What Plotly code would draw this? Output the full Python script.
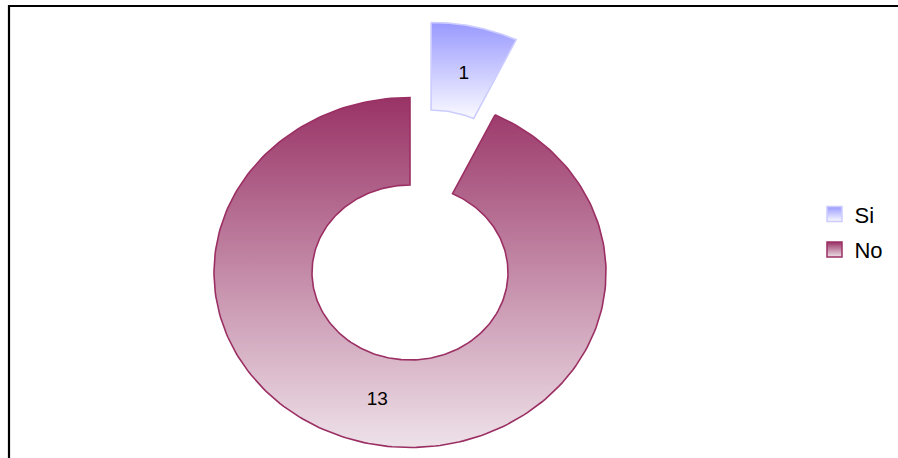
import numpy as np
import plotly.graph_objects as go

# ---- data ----
categories = ["Si", "No"]
values = [1, 13]
labels_text = ["1", "13"]
explode = [0.44, 0.0]
top_colors = ["#9999FF", "#993366"]
bottom_colors = ["#FAFAFF", "#EEE2E9"]
line_colors = ["#CCCCFF", "#9B2F63"]

HOLE = 0.5
W, H = 898, 458
CX, CY = 410, 272.5      # pixel centre of the donut
RX, RY = 196, 175        # pixel radii (stretched ellipse)

fig = go.Figure()

total = sum(values)
start = 0.0
label_x, label_y = [], []
for i, (cat, v) in enumerate(zip(categories, values)):
    a0 = start / total * 2 * np.pi
    a1 = (start + v) / total * 2 * np.pi
    start += v
    mid = (a0 + a1) / 2
    ox, oy = explode[i] * np.sin(mid) * 1.1, explode[i] * np.cos(mid)
    t = np.linspace(a0, a1, 240)
    xs = np.concatenate([np.sin(t), HOLE * np.sin(t[::-1])]) + ox
    ys = np.concatenate([np.cos(t), HOLE * np.cos(t[::-1])]) + oy
    xs = np.append(xs, xs[0])
    ys = np.append(ys, ys[0])
    fig.add_trace(go.Scatter(
        x=xs, y=ys, mode="lines", fill="toself",
        line=dict(color=line_colors[i], width=1.6),
        fillgradient=dict(type="vertical",
                          colorscale=[[0, bottom_colors[i]], [1, top_colors[i]]]),
        showlegend=False, hoverinfo="skip", name=cat,
    ))
    rm = (1 + HOLE) / 2
    label_x.append(rm * np.sin(mid) + ox)
    label_y.append(rm * np.cos(mid) + oy * 0.93)

fig.add_trace(go.Scatter(
    x=label_x, y=label_y, mode="text", text=labels_text,
    textfont=dict(family="Liberation Sans, Arial", size=19, color="#000000"),
    showlegend=False, hoverinfo="skip",
))

# legend entries
for i, cat in enumerate(categories):
    fig.add_trace(go.Scatter(
        x=[None], y=[None], mode="markers", name=cat,
        marker=dict(symbol="square", size=15, color=top_colors[i],
                    gradient=dict(type="vertical", color=bottom_colors[i]),
                    line=dict(color=line_colors[i], width=1.5)),
        legendgroup=cat,
    ))

fig.update_layout(
    width=W, height=H,
    margin=dict(l=0, r=0, t=0, b=0),
    paper_bgcolor="white", plot_bgcolor="white",
    xaxis=dict(range=[-CX / RX, (W - CX) / RX], visible=False, fixedrange=True),
    yaxis=dict(range=[-(H - CY) / RY, CY / RY], visible=False, fixedrange=True),
    showlegend=True,
    legend=dict(x=0.907, y=0.493, xanchor="left", yanchor="middle",
                font=dict(family="Liberation Sans, Arial", size=22, color="#000000"),
                bgcolor="rgba(0,0,0,0)", traceorder="grouped", tracegroupgap=4),
    shapes=[dict(type="rect", xref="paper", yref="paper",
                 x0=9 / W, x1=1.2, y0=-0.2, y1=1 - 6 / H,
                 line=dict(color="black", width=2.2), layer="above")],
)

fig.write_html("out.html")
